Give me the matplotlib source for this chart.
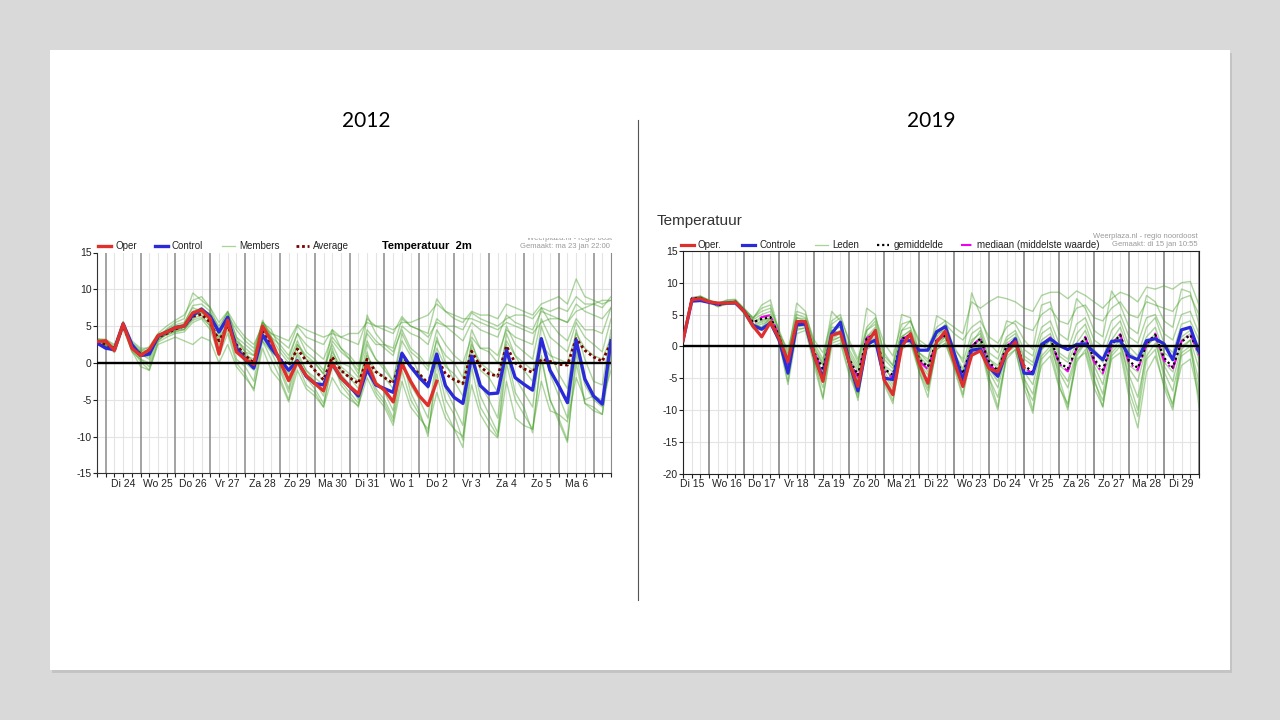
import numpy as np
import matplotlib
matplotlib.use("Agg")
import matplotlib.pyplot as plt
from matplotlib.lines import Line2D
from matplotlib.patches import Rectangle

# ---------------- data: 2012 run (6-hourly, first step = 23 dec 18 UTC) ----------------
days_2012 = ["Di 24", "Wo 25", "Do 26", "Vr 27", "Za 28", "Zo 29", "Ma 30",
             "Di 31", "Wo 1", "Do 2", "Vr 3", "Za 4", "Zo 5", "Ma 6"]

oper_2012 = [2.9,
             3.0, 1.7, 5.3, 2.0,   1.0, 1.8, 3.7, 4.2,   4.8, 5.0, 6.8, 7.2,
             6.0, 1.2, 5.8, 1.5,   0.5, -0.2, 5.0, 3.0,  0.2, -2.4, 0.2, -1.7,
             -2.8, -3.8, 0.0, -2.0, -3.2, -4.2, 0.0, -2.8, -3.7, -5.3, -0.1, -2.5,
             -4.5, -5.8, -2.5]

control_2012 = [2.7,
                2.0, 1.8, 5.3, 2.5,   1.0, 1.2, 3.6, 4.2,   4.8, 5.0, 6.5, 7.3,
                6.3, 4.2, 6.2, 2.0,   0.5, -0.7, 3.8, 2.0,  0.5, -1.0, 0.3, -1.8,
                -2.8, -3.0, -0.1, -2.0, -3.2, -4.5, -0.9, -3.0, -3.5, -4.0, 1.3, -0.5,
                -2.0, -3.2, 1.2, -3.1, -4.7, -5.5, 0.9, -3.1, -4.2, -4.1, 1.7, -2.0,
                -2.9, -3.7, 3.3, -1.0, -3.1, -5.4, 3.1, -2.2, -4.5, -5.6, 3.0]

average_2012 = [2.8,
                2.5, 2.0, 5.0, 2.3,   1.2, 1.3, 3.5, 4.0,   4.6, 5.0, 6.3, 6.6,
                5.5, 3.0, 5.0, 2.5,   1.0, 0.0, 4.5, 2.5,   0.5, -0.3, 1.9, 0.3,
                -1.0, -2.3, 0.8, -1.0, -2.0, -2.8, 0.5, -1.2, -2.0, -2.8, 1.0, -0.5,
                -1.5, -2.8, 0.8, -1.5, -2.3, -2.8, 1.6, -0.5, -1.5, -1.8, 2.3, 0.0,
                -0.8, -1.3, 0.5, 0.2, -0.2, -0.3, 3.3, 1.7, 0.8, 0.2, 2.8]

members_2012 = [
    [3.0, 2.8, 2.0, 5.0, 2.5, 1.5, 1.2, 3.8, 4.5, 5.2, 5.5, 7.5, 7.0, 5.5, 3.0, 5.5, 3.0,
     2.0, 1.0, 4.8, 3.5, 2.5, 1.0, 4.0, 2.5, 1.5, 0.5, 3.5, 2.0, 1.0, -0.5, 4.5, 3.0,
     2.0, 1.0, 5.0, 4.0, 3.5, 2.5, 6.0, 5.0, 4.0, 3.0, 5.5, 4.5, 4.0, 3.5, 6.5, 5.5,
     5.0, 4.5, 7.0, 6.5, 6.0, 5.5, 8.0, 7.0, 6.5, 6.0, 7.5],
    [2.8, 2.6, 2.2, 5.5, 2.2, 1.0, 0.8, 3.3, 4.0, 4.5, 4.8, 6.5, 6.8, 6.5, 4.5, 6.0, 2.5,
     1.0, 0.0, 4.0, 2.0, 0.5, -1.0, 2.5, 1.0, 0.0, -1.5, 3.0, 1.5, 0.5, -1.0, 4.0, 2.5,
     2.5, 2.0, 6.0, 5.0, 4.5, 4.0, 8.7, 7.0, 6.0, 5.5, 7.0, 6.5, 6.5, 6.0, 8.0, 7.5,
     7.0, 6.5, 8.0, 8.5, 9.0, 8.0, 11.4, 9.0, 8.5, 8.0, 8.5],
    [3.2, 3.0, 2.0, 5.2, 1.5, 0.5, -0.5, 3.0, 4.0, 4.5, 4.5, 6.0, 6.5, 5.0, 2.0, 4.5, 0.5,
     -0.5, -2.5, 3.5, 1.5, -1.0, -4.0, 0.5, -2.0, -3.5, -5.5, -0.5, -2.5, -4.0, -5.5, -1.0, -4.0,
     -5.5, -8.0, -1.0, -5.0, -7.0, -9.5, -1.5, -6.5, -9.0, -11.5, -0.5, -6.0, -8.0, -10.0, 0.0, -5.0,
     -7.0, -9.0, 0.5, -5.0, -7.5, -10.5, 0.0, -5.5, -6.5, -7.0, 0.5],
    [2.6, 2.4, 1.8, 4.8, 2.5, 1.5, 1.5, 3.5, 3.8, 4.3, 4.6, 5.8, 6.2, 5.0, 3.5, 4.8, 2.5,
     1.0, 0.5, 4.5, 2.5, 0.0, -1.5, 2.5, 0.5, -1.0, -2.5, 1.5, -0.5, -1.5, -2.5, 1.0, -1.0,
     -2.0, -3.5, 1.5, -0.5, -1.5, -3.0, 2.0, -0.5, -1.5, -3.0, 2.5, 0.0, -1.0, -2.0, 3.0, 1.0,
     0.0, -1.0, 2.5, 1.0, 0.5, 0.0, 4.0, 2.0, 1.0, 0.5, 3.5],
    [3.0, 2.7, 1.5, 5.4, 2.0, 0.5, 0.0, 3.5, 4.2, 5.0, 5.2, 7.0, 7.5, 6.5, 2.5, 5.5, 2.0,
     0.0, -1.0, 5.5, 3.5, -0.5, -3.5, 1.5, -1.0, -2.5, -4.5, 2.0, -1.5, -3.0, -5.0, 1.5, -2.5,
     -4.0, -6.5, 0.5, -3.0, -5.0, -7.5, 1.0, -3.5, -6.0, -8.5, 2.0, -3.0, -5.0, -7.5, 2.5, -2.0,
     -4.0, -6.0, 3.0, -1.5, -4.5, -7.5, 2.0, -3.0, -5.0, -6.0, 1.0],
    [2.5, 2.2, 2.0, 5.6, 3.0, 2.0, 2.0, 3.2, 3.8, 4.2, 4.5, 6.2, 7.0, 6.8, 5.0, 6.8, 3.5,
     1.5, 0.0, 3.0, 1.5, 0.5, -2.0, 1.0, -1.0, -2.0, -3.0, 1.0, -1.0, -2.0, -3.5, 2.5, 0.5,
     -1.0, -2.5, 3.0, 1.0, -1.5, -3.5, 3.5, 0.0, -2.5, -4.5, 3.0, -1.0, -2.0, -4.0, 4.0, 1.0,
     -1.0, -2.5, 5.0, 1.5, -1.5, -3.5, 4.5, 0.5, -2.5, -3.0, 4.5],
    [3.1, 3.1, 2.3, 5.1, 2.8, 1.8, 1.6, 3.0, 4.0, 4.6, 5.0, 6.5, 6.8, 6.0, 4.0, 6.5, 4.5,
     3.0, 2.0, 5.5, 4.0, 3.0, 2.0, 5.0, 3.5, 3.0, 2.5, 4.5, 3.5, 3.0, 2.5, 6.0, 5.0,
     4.5, 4.0, 6.3, 5.0, 4.5, 3.5, 5.5, 5.0, 5.0, 4.5, 6.8, 6.0, 5.5, 5.0, 6.0, 6.5,
     6.5, 6.0, 7.5, 7.0, 7.5, 7.0, 9.0, 8.0, 8.0, 7.5, 9.0],
    [2.7, 2.5, 1.6, 5.0, 1.8, 0.2, -1.0, 2.8, 3.5, 4.0, 4.2, 5.5, 6.0, 4.5, 1.0, 4.0, 0.0,
     -1.5, -3.8, 3.0, 0.5, -2.0, -5.0, 0.0, -3.0, -4.0, -6.0, 0.5, -3.0, -4.5, -6.0, 0.0, -3.5,
     -5.0, -7.5, 1.0, -4.0, -6.5, -10.0, 0.0, -5.0, -7.0, -10.5, 1.0, -4.5, -7.0, -9.5, 1.5, -4.0,
     -6.0, -9.5, 1.0, -5.0, -8.0, -10.8, 1.5, -5.5, -6.0, -7.0, 2.5],
    [2.9, 2.9, 1.9, 4.9, 2.2, 1.2, 0.5, 3.9, 4.3, 4.9, 5.3, 7.8, 8.0, 7.0, 3.5, 6.0, 3.0,
     1.5, 1.0, 5.8, 3.5, 1.5, 0.0, 3.0, 0.5, 0.0, -1.5, 4.5, 2.0, 0.5, -1.5, 3.0, 0.5,
     -0.5, -2.5, 4.0, 1.5, 0.5, -1.0, 3.0, 1.0, 0.0, -2.0, 4.5, 2.0, 1.5, 0.0, 5.0, 2.5,
     1.5, 0.5, 6.0, 3.5, 2.5, 1.5, 5.5, 3.5, 2.5, 1.5, 6.0],
    [3.0, 2.7, 2.1, 5.2, 2.4, 1.2, 1.5, 3.4, 4.6, 5.5, 6.0, 9.5, 8.5, 7.5, 5.5, 7.0, 5.0,
     3.5, 2.5, 5.0, 4.0, 3.5, 3.0, 5.2, 4.5, 4.0, 3.5, 4.0, 3.5, 4.0, 4.0, 5.5, 5.0,
     5.0, 4.5, 5.5, 5.5, 6.0, 6.5, 8.0, 7.0, 6.5, 6.0, 6.0, 5.5, 5.0, 4.5, 5.5, 5.0,
     4.5, 4.0, 5.5, 6.0, 6.0, 5.5, 7.0, 7.5, 8.0, 8.5, 8.5],
    [2.6, 2.3, 1.4, 4.6, 1.6, -0.5, -1.0, 2.5, 3.0, 3.5, 3.0, 2.5, 3.5, 3.0, 0.0, 2.5, -0.5,
     -2.0, -3.5, 2.0, -1.0, -2.5, -5.3, -1.0, -3.5, -4.5, -6.0, -2.0, -4.0, -5.0, -5.8, -2.0, -4.5,
     -6.0, -8.5, -2.5, -6.0, -7.5, -9.0, -4.0, -7.5, -9.0, -10.0, -3.0, -7.0, -9.0, -10.2, -2.5, -7.5,
     -8.5, -9.0, -2.5, -6.5, -7.0, -8.0, -2.0, -5.0, -4.5, -5.0, -1.0],
    [3.3, 3.2, 2.5, 5.6, 2.6, 1.6, 2.2, 4.0, 5.0, 5.8, 6.5, 8.5, 9.0, 7.5, 4.5, 7.0, 3.5,
     2.5, 1.5, 5.5, 4.5, 2.0, 0.5, 4.0, 1.5, 0.5, -1.0, 2.5, 0.0, -0.5, -2.0, 6.5, 4.0,
     2.5, 1.5, 4.5, 2.0, 1.0, -0.5, 4.5, 2.5, 1.0, 0.0, 3.5, 2.0, 2.0, 1.0, 4.5, 3.5,
     3.0, 2.5, 7.5, 5.5, 4.0, 3.0, 6.0, 4.5, 4.5, 4.0, 7.5],
]

# ---------------- data: 2019 run (6-hourly, first step = 15 jan 06 UTC) ----------------
days_2019 = ["Di 15", "Wo 16", "Do 17", "Vr 18", "Za 19", "Zo 20", "Ma 21", "Di 22",
             "Wo 23", "Do 24", "Vr 25", "Za 26", "Zo 27", "Ma 28", "Di 29"]

oper_2019 = [0.9, 7.3, 7.5,
             7.0, 6.8, 6.8, 6.9,   5.5, 3.2, 1.5, 3.8,   1.2, -2.4, 3.9, 3.9,
             -1.4, -5.5, 1.7, 2.2,  -2.5, -6.3, 0.4, 2.5,  -5.3, -7.6, -0.1, 2.0,
             -2.7, -5.8, 0.7, 2.4,  -2.4, -6.3, -1.4, -0.7,  -3.5, -4.0, -0.9, 0.7,
             -3.3]

control_2019 = [0.9, 7.1, 7.2,
                6.9, 6.7, 6.8, 6.8,   5.5, 3.3, 2.7, 3.7,   1.0, -4.2, 3.4, 3.5,
                -1.5, -5.0, 2.0, 3.8,  -2.5, -7.0, 0.3, 1.0,  -5.0, -5.2, 0.8, 0.9,
                -0.6, -0.6, 2.3, 3.1,  -1.0, -5.3, -0.6, -0.4,  -3.3, -4.7, -0.8, 1.2,
                -4.2, -4.3, 0.3, 1.2,  0.15, -0.5, 0.3, 0.4,  -0.9, -2.1, 0.8, 0.9,
                -1.5, -2.1, 0.9, 1.2,  0.4, -2.1, 2.6, 3.0,
                -0.9]

mean_2019 = [0.9, 7.5, 7.6,
             7.0, 6.5, 6.8, 7.0,   5.5, 3.8, 4.3, 4.6,   1.5, -2.5, 3.5, 3.5,
             -1.0, -3.5, 1.8, 2.2,  -2.0, -4.5, 1.2, 2.0,  -3.5, -4.5, 1.2, 1.8,
             -2.0, -3.2, 1.0, 1.7,  -1.5, -4.3, 0.0, 1.2,  -2.5, -3.8, 0.0, 1.0,
             -3.0, -4.0, 0.0, 1.3,  -2.5, -3.5, -0.3, 1.3,  -2.0, -3.7, 0.3, 1.8,
             -2.3, -3.4, 0.4, 1.8,  -1.8, -3.3, 0.7, 1.8,
             -1.0]

median_2019 = [0.9, 7.5, 7.6,
               7.0, 6.5, 6.8, 7.0,   5.5, 3.6, 4.6, 4.9,   1.5, -2.8, 3.6, 3.6,
               -1.0, -3.8, 1.8, 2.3,  -2.2, -4.8, 1.3, 2.1,  -3.8, -5.0, 1.1, 1.9,
               -2.3, -3.6, 1.0, 1.8,  -1.7, -4.6, 0.0, 1.3,  -2.8, -4.1, 0.1, 1.0,
               -3.3, -4.3, 0.2, 1.4,  -2.7, -3.9, -0.3, 1.5,  -2.4, -4.2, 0.3, 1.9,
               -2.6, -3.7, 0.4, 2.0,  -2.2, -3.6, 0.8, 2.0,
               -1.4]

members_2019 = [
    [0.8, 7.6, 7.8, 7.2, 6.8, 7.2, 7.3, 5.8, 4.5, 5.5, 6.0, 2.5, -1.0, 5.0, 4.5,
     0.5, -2.0, 3.5, 4.5, 1.0, -2.0, 3.0, 4.5, 0.5, -1.5, 3.5, 4.0, 1.0, 0.0, 3.0, 4.0,
     3.0, 2.0, 7.0, 6.0, 7.0, 7.8, 7.5, 7.0, 6.0, 5.5, 8.0, 8.5, 8.5, 7.5, 8.7, 8.0,
     7.0, 6.0, 7.5, 8.5, 8.0, 7.0, 9.3, 9.0, 9.5, 9.0, 10.0, 10.2, 6.5],
    [1.0, 7.4, 7.5, 6.8, 6.6, 6.6, 6.8, 5.2, 3.0, 3.5, 4.0, 0.5, -4.5, 2.5, 3.0,
     -2.5, -6.5, 0.5, 1.0, -4.0, -7.5, 0.0, 1.0, -5.0, -7.0, 0.5, 1.0, -3.5, -6.5, -0.5, 0.5,
     -3.0, -6.5, -1.5, 0.0, -5.0, -8.0, -2.0, -0.5, -6.0, -8.5, -3.0, -1.5, -6.5, -9.0, -2.5, -0.5,
     -5.5, -8.5, -2.0, -1.0, -8.0, -12.8, -4.0, -1.5, -6.0, -9.0, -3.0, -2.0, -8.0],
    [0.9, 7.4, 7.7, 7.1, 6.4, 6.9, 7.1, 5.6, 4.0, 4.2, 4.5, 1.8, -2.0, 4.0, 4.0,
     -0.5, -3.0, 2.5, 2.0, -1.5, -4.0, 1.5, 2.5, -3.0, -4.0, 1.5, 2.5, -1.5, -3.0, 1.0, 1.5,
     -1.0, -3.5, 1.0, 2.0, -2.0, -3.0, 0.5, 1.5, -2.0, -3.0, 1.0, 2.0, -1.5, -2.5, 0.5, 2.5,
     -1.0, -2.5, 1.0, 3.0, -1.0, -2.0, 1.5, 3.0, -1.0, -2.0, 1.5, 2.5, 0.0],
    [0.8, 7.5, 7.9, 7.0, 6.2, 6.7, 6.9, 5.3, 3.5, 3.0, 3.8, 1.0, -5.5, 3.0, 3.5,
     -2.0, -8.0, 1.0, 1.5, -3.0, -8.5, 0.5, 2.0, -6.0, -9.0, 0.0, 1.5, -4.0, -8.0, 0.0, 1.5,
     -3.0, -7.5, -0.5, 0.5, -5.0, -9.5, -1.0, 0.5, -5.0, -10.0, -0.5, 1.0, -5.0, -9.5, -1.0, 0.5,
     -5.0, -9.5, -0.5, 1.0, -5.5, -10.0, 0.0, 1.5, -5.0, -9.5, -0.5, 1.0, -9.5],
    [0.9, 7.6, 7.6, 7.1, 6.9, 7.0, 7.2, 6.0, 4.5, 6.0, 6.5, 2.0, -0.5, 5.5, 5.0,
     1.0, -1.0, 4.0, 5.0, 0.5, -2.5, 2.5, 4.0, -1.0, -3.0, 2.5, 4.0, 0.5, -0.5, 2.0, 3.5,
     2.0, 1.0, 3.0, 4.0, 1.5, 0.5, 3.0, 4.0, 3.0, 2.5, 5.0, 6.0, 4.0, 3.5, 6.0, 6.5,
     4.5, 4.0, 6.0, 7.0, 5.0, 4.5, 7.0, 6.5, 6.0, 5.5, 7.5, 8.0, 5.0],
    [1.0, 7.5, 7.5, 6.9, 6.5, 6.8, 7.0, 5.4, 3.8, 4.6, 5.0, 1.4, -2.8, 3.6, 3.8,
     -1.2, -4.0, 2.0, 2.5, -2.0, -5.0, 1.0, 2.0, -3.5, -5.0, 1.0, 2.0, -2.5, -3.5, 1.0, 2.0,
     -1.5, -4.5, 0.0, 1.5, -3.0, -4.5, 0.0, 1.0, -3.5, -4.5, 0.5, 1.5, -3.0, -4.0, -0.5, 1.5,
     -2.5, -4.5, 0.5, 2.0, -3.0, -4.0, 0.5, 2.0, -2.5, -4.0, 1.0, 2.0, -2.0],
    [0.8, 7.3, 7.4, 6.8, 6.3, 6.6, 6.7, 5.2, 3.2, 3.8, 4.2, 0.8, -4.0, 2.8, 2.8,
     -2.0, -5.5, 0.8, 1.5, -3.0, -6.5, 0.0, 1.0, -4.5, -6.5, 0.5, 1.0, -3.0, -5.5, 0.0, 1.0,
     -2.5, -6.0, -1.0, 0.5, -4.0, -6.5, -1.0, 0.0, -5.0, -7.5, -1.5, 0.0, -4.0, -6.5, -1.5, 0.5,
     -4.0, -7.5, -1.0, 0.5, -4.5, -8.0, -1.5, 0.5, -4.0, -7.0, -1.0, 0.0, -5.5],
    [0.9, 7.7, 7.9, 7.3, 6.7, 7.3, 7.4, 5.9, 4.3, 6.5, 7.3, 2.2, -1.5, 6.8, 5.5,
     0.0, -2.5, 5.5, 4.0, -0.5, -3.0, 6.0, 5.0, -1.5, -3.0, 5.0, 4.5, -1.0, -2.5, 4.8, 4.0,
     -0.5, -2.0, 8.4, 5.0, 0.5, -1.0, 4.0, 3.5, 1.0, -0.5, 6.5, 7.0, 2.0, 1.0, 7.5, 6.0,
     2.5, 1.5, 8.7, 6.5, 3.0, 2.0, 8.0, 7.0, 4.0, 3.0, 9.0, 8.5, 3.5],
    [1.0, 7.4, 7.6, 7.0, 6.6, 6.8, 7.0, 5.4, 3.4, 4.0, 4.4, 1.2, -3.5, 3.2, 3.2,
     -1.5, -5.0, 1.2, 2.0, -2.5, -5.5, 0.5, 1.5, -4.0, -6.0, 1.0, 1.5, -2.5, -4.5, 0.5, 1.5,
     -2.0, -5.5, -0.5, 1.0, -3.5, -5.5, -0.5, 0.5, -4.0, -6.0, -0.5, 1.0, -3.5, -5.5, -1.0, 1.0,
     -3.0, -6.0, 0.0, 1.5, -3.5, -5.5, 0.0, 1.5, -3.0, -5.5, 0.0, 1.0, -3.5],
    [0.9, 7.5, 7.8, 7.2, 6.7, 7.0, 7.1, 5.7, 4.2, 5.0, 5.5, 1.8, -1.8, 4.5, 4.3,
     -0.3, -2.8, 3.0, 3.0, -1.0, -3.5, 2.5, 3.5, -2.0, -3.5, 2.5, 3.0, -1.0, -2.0, 2.0, 2.5,
     0.0, -2.5, 2.0, 3.0, -1.0, -2.0, 1.5, 2.5, -0.5, -1.5, 3.0, 4.0, 0.5, -0.5, 3.5, 4.5,
     1.0, 0.0, 4.0, 5.0, 1.5, 0.5, 4.5, 5.0, 2.0, 1.0, 5.0, 5.5, 2.0],
    [0.8, 7.4, 7.6, 6.9, 6.4, 6.7, 6.9, 5.1, 2.8, 2.5, 3.5, 0.5, -6.0, 2.0, 2.5,
     -3.0, -8.3, 0.0, 0.5, -4.5, -8.0, -0.5, 0.5, -5.5, -8.5, -0.5, 0.5, -4.0, -7.0, -0.5, 0.5,
     -3.5, -8.0, -1.0, 0.0, -6.0, -10.0, -1.5, -0.5, -6.5, -10.5, -2.0, -0.5, -6.0, -10.0, -2.0, -1.0,
     -6.5, -9.5, -1.5, 0.0, -7.0, -11.0, -2.0, -0.5, -6.5, -10.0, -1.5, -0.5, -7.0],
    [0.9, 7.3, 7.5, 7.0, 6.8, 6.9, 7.0, 5.6, 3.5, 3.0, 4.5, 1.5, -2.0, 4.5, 4.0,
     -1.0, -4.5, 2.5, 3.0, -1.5, -5.5, 1.5, 3.0, -3.0, -5.5, 1.5, 2.5, -1.5, -4.0, 1.5, 3.0,
     -1.0, -4.0, 0.5, 2.5, -2.0, -3.5, 1.0, 2.0, -1.5, -2.5, 2.0, 3.0, -1.0, -2.0, 2.0, 3.5,
     -0.5, -2.0, 2.5, 4.0, 0.0, -1.5, 3.0, 4.5, 0.5, -1.0, 3.5, 4.0, 1.0],
]

# time axes in days (6-hourly steps)
t_2012 = np.arange(60) * 0.25 - 0.25
t_2019 = np.arange(60) * 0.25 + 0.25

W, H = 1280, 720


def fx(x):
    return x / W


def fy(y):
    return 1 - y / H


def dress_axes(ax, xlim, ylim, labels, first_day, dark_col):
    ax.set_xlim(xlim)
    ax.set_ylim(ylim)
    steps = np.arange(xlim[0], xlim[1] + 0.001, 0.25)
    for x in steps:
        if abs(x - round(x)) < 1e-6:
            ax.axvline(x, color=dark_col, lw=1.1, zorder=1)
        else:
            ax.axvline(x, color="#e4e4e4", lw=0.8, zorder=0)
    for y in range(ylim[0] + 5, ylim[1], 5):
        ax.axhline(y, color="#e4e4e4", lw=0.8, zorder=0)
    ax.axhline(0, color="black", lw=1.7, zorder=6)
    ticklabels = []
    for x in steps:
        k = x - 0.5 - first_day
        if abs(k - round(k)) < 1e-6 and 0 <= round(k) < len(labels):
            ticklabels.append(labels[int(round(k))])
        else:
            ticklabels.append("")
    ax.set_xticks(steps)
    ax.set_xticklabels(ticklabels)
    ax.set_yticks(range(ylim[0], ylim[1] + 1, 5))
    ax.tick_params(axis="x", length=3, width=0.8, labelsize=7.5, pad=1, colors="#222222")
    ax.tick_params(axis="y", length=3, width=0.8, labelsize=7.5, pad=1, colors="#222222")


def legend_line(x0, x1, y, **kw):
    fig.add_artist(Line2D([fx(x0), fx(x1)], [fy(y), fy(y)], transform=fig.transFigure, **kw))


plt.rcParams["font.family"] = ["Liberation Sans", "DejaVu Sans"]
plt.rcParams["axes.unicode_minus"] = False

fig = plt.figure(figsize=(12.8, 7.2), dpi=100, facecolor="#d9d9d9")

# slide with a soft shadow (kept behind the axes)
fig.add_artist(Rectangle((fx(52), fy(673)), fx(1180), 620 / H, transform=fig.transFigure,
                         facecolor="#c4c4c4", edgecolor="none", zorder=-20))
fig.add_artist(Rectangle((fx(50), fy(670)), fx(1180), 620 / H, transform=fig.transFigure,
                         facecolor="white", edgecolor="none", zorder=-10))
fig.add_artist(Line2D([fx(638), fx(638)], [fy(120), fy(600)], transform=fig.transFigure,
                      color="#555555", lw=0.8))
fig.text(fx(366), fy(121), "2012", ha="center", va="center", fontsize=15, family="Lato")
fig.text(fx(931), fy(121), "2019", ha="center", va="center", fontsize=15, family="Lato")

member_col = "#3d9c1c"

# ---------------- left panel: 2012 ----------------
ax1 = fig.add_axes([fx(97), fy(473.3), fx(514), 220.8 / H])
dress_axes(ax1, (-0.25, 14.5), (-15, 15), days_2012, 0, "#8a8a8a")
for m in members_2012:
    ax1.plot(t_2012, m, color=member_col, lw=1.0, alpha=0.42, zorder=2)
ax1.plot(t_2012, average_2012, color="#7a0000", lw=2.0, ls=(0, (1, 1)), zorder=3)
ax1.plot(t_2012, control_2012, color="#2a2ad8", lw=2.4, zorder=4)
ax1.plot(t_2012[:len(oper_2012)], oper_2012, color="#e0302c", lw=2.4, zorder=5)
ax1.spines["top"].set_visible(False)
ax1.spines["right"].set_color("#8a8a8a")
ax1.spines["left"].set_color("#333333")
ax1.spines["bottom"].set_color("#333333")

legend_line(98, 111, 246, color="#e0302c", lw=2.4)
fig.text(fx(115), fy(246), "Oper", fontsize=7, va="center", color="#222222")
legend_line(155, 168, 246, color="#2a2ad8", lw=2.4)
fig.text(fx(172), fy(246), "Control", fontsize=7, va="center", color="#222222")
legend_line(222, 235, 246, color="#a6d693", lw=0.9)
fig.text(fx(239), fy(246), "Members", fontsize=7, va="center", color="#222222")
legend_line(296, 309, 246, color="#7a0000", lw=2.0, ls=(0, (1, 1)))
fig.text(fx(313), fy(246), "Average", fontsize=7, va="center", color="#222222")
fig.text(fx(382), fy(246), "Temperatuur  2m", fontsize=8, va="center", weight="bold")
fig.text(fx(610), fy(246), "Gemaakt: ma 23 jan 22:00", fontsize=5.5, ha="right",
         va="center", color="#9a9a9a")
clip_ax = fig.add_axes([fx(480), fy(250), fx(132), 12 / H])
clip_ax.axis("off")
clip_ax.text(1.0, 0.98, "Weerplaza.nl - regio oost", fontsize=5.5, ha="right", va="center",
             color="#9a9a9a", transform=clip_ax.transAxes, clip_on=True)

# ---------------- right panel: 2019 ----------------
ax2 = fig.add_axes([fx(683), fy(473.7), fx(516), 222.8 / H])
dress_axes(ax2, (0.25, 15), (-20, 15), days_2019, 0, "#7a7a7a")
for m in members_2019:
    ax2.plot(t_2019, m, color=member_col, lw=1.0, alpha=0.42, zorder=2)
ax2.plot(t_2019, median_2019, color="#ee00ee", lw=1.5, ls=(0, (5, 2, 1, 2)), zorder=3)
ax2.plot(t_2019, mean_2019, color="black", lw=1.6, ls=(0, (1, 1.3)), zorder=3)
ax2.plot(t_2019, control_2019, color="#2a2ad8", lw=2.3, zorder=4)
ax2.plot(t_2019[:len(oper_2019)], oper_2019, color="#de2f2f", lw=2.3, zorder=5)
for s in ax2.spines.values():
    s.set_color("#222222")

fig.text(fx(657), fy(221), "Temperatuur", fontsize=11, va="center", color="#333333")
legend_line(681, 694, 245, color="#de2f2f", lw=2.3)
fig.text(fx(698), fy(245), "Oper.", fontsize=7, va="center", color="#222222")
legend_line(742, 755, 245, color="#2a2ad8", lw=2.3)
fig.text(fx(759), fy(245), "Controle", fontsize=7, va="center", color="#222222")
legend_line(815, 828, 245, color="#a6d693", lw=0.9)
fig.text(fx(832), fy(245), "Leden", fontsize=7, va="center", color="#222222")
legend_line(877, 889, 245, color="black", lw=1.6, ls=(0, (1, 1.3)))
fig.text(fx(894), fy(245), "gemiddelde", fontsize=7, va="center", color="#222222")
legend_line(961, 973, 245, color="#ee00ee", lw=1.5, ls=(0, (5, 2, 1, 2)))
fig.text(fx(977), fy(245), "mediaan (middelste waarde)", fontsize=7, va="center",
         color="#222222")
fig.text(fx(1198), fy(237), "Weerplaza.nl - regio noordoost", fontsize=5.5, ha="right",
         va="center", color="#9a9a9a")
fig.text(fx(1198), fy(245), "Gemaakt: di 15 jan 10:55", fontsize=5.5, ha="right",
         va="center", color="#9a9a9a")

fig.savefig("out.png", dpi=100, facecolor=fig.get_facecolor())
